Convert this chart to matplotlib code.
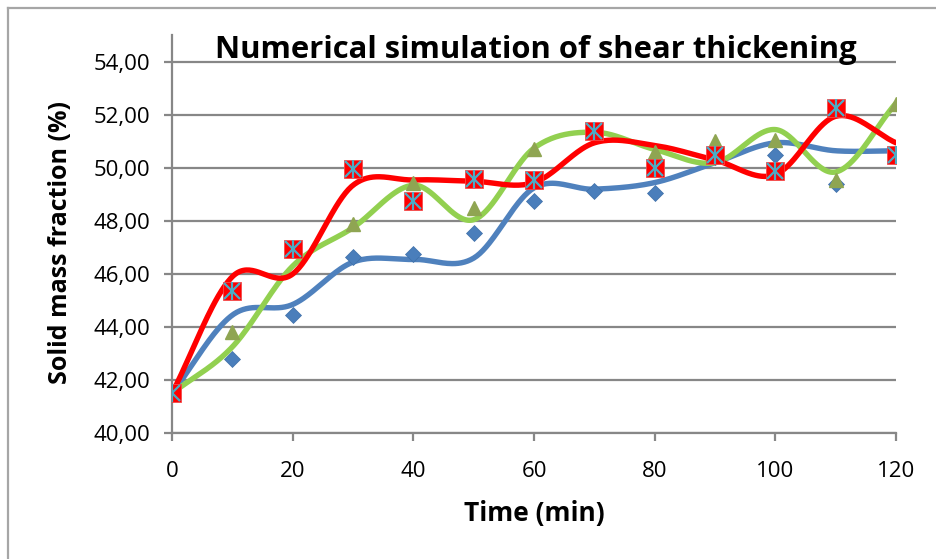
import numpy as np
import matplotlib
matplotlib.use("Agg")
import matplotlib.pyplot as plt
from matplotlib.ticker import FuncFormatter, MultipleLocator
from matplotlib.lines import Line2D

plt.rcParams['font.family'] = ['Open Sans', 'DejaVu Sans']

# time axis (min)
time = [0, 10, 20, 30, 40, 50, 60, 70, 80, 90, 100, 110, 120]

# measured points
blue_pts = [41.5, 42.8, 44.45, 46.65, 46.75, 47.55, 48.75, 49.15, 49.05, 50.4, 50.5, 49.4, 50.5]
green_pts = [41.5, 43.8, 46.9, 47.9, 49.45, 48.5, 50.7, 51.4, 50.6, 51.0, 51.05, 49.55, 52.4]
red_pts = [41.5, 45.35, 46.95, 49.95, 48.75, 49.6, 49.55, 51.4, 50.0, 50.5, 49.9, 52.25, 50.5]

# smoothed simulation curves (values at each time step)
blue_curve = [41.5, 44.45, 44.85, 46.45, 46.55, 46.6, 49.25, 49.2, 49.45, 50.2, 50.95, 50.65, 50.65]
green_curve = [41.5, 43.25, 46.3, 47.75, 49.35, 48.05, 50.75, 51.35, 50.7, 50.2, 51.45, 49.85, 52.45]
red_curve = [41.5, 45.9, 46.0, 49.35, 49.55, 49.5, 49.45, 50.95, 50.85, 50.3, 49.75, 51.95, 50.95]


def smooth(x, y, n=40):
    # catmull-rom, similar to excel "smoothed line"
    x = np.asarray(x, float)
    y = np.asarray(y, float)
    px = np.concatenate([[2 * x[0] - x[1]], x, [2 * x[-1] - x[-2]]])
    py = np.concatenate([[2 * y[0] - y[1]], y, [2 * y[-1] - y[-2]]])
    xs, ys = [], []
    t = np.linspace(0, 1, n)
    for i in range(1, len(px) - 2):
        m0 = (py[i + 1] - py[i - 1]) / 2
        m1 = (py[i + 2] - py[i]) / 2
        h00 = 2 * t**3 - 3 * t**2 + 1
        h10 = t**3 - 2 * t**2 + t
        h01 = -2 * t**3 + 3 * t**2
        h11 = t**3 - t**2
        xs.append(px[i] + t * (px[i + 1] - px[i]))
        ys.append(h00 * py[i] + h10 * m0 + h01 * py[i + 1] + h11 * m1)
    return np.concatenate(xs), np.concatenate(ys)


fig = plt.figure(figsize=(9.36, 5.59), dpi=100)
ax = fig.add_axes([0.1838, 0.2254, 0.7735, 0.7111])

grey = '#878787'

for curve, col in [(blue_curve, '#4F81BD'), (green_curve, '#92D050'), (red_curve, '#FF0000')]:
    sx, sy = smooth(time, curve)
    ax.plot(sx, sy, color=col, lw=3.9, solid_capstyle='round', zorder=3)

ax.plot(time, blue_pts, 'D', color='#4A7EBB', ms=8.5, mec='#3F6FA8', mew=0.5, zorder=4)
ax.plot(time, green_pts, '^', color='#8FA552', ms=10.5, mec='#8FA552', zorder=4)
ax.plot(time, red_pts, 's', color='#FF0000', ms=13, mec='#F24A4A', mew=0.6, zorder=5)
ax.plot(time, red_pts, 'x', color='#4BACC6', ms=11.5, mew=1.6, zorder=6)
ax.plot(time, red_pts, '|', color='#4BACC6', ms=12.5, mew=1.6, zorder=6)

ax.set_xlim(0, 120)
ax.set_ylim(40, 55)
ax.xaxis.set_major_locator(MultipleLocator(20))
ax.set_yticks(np.arange(40, 55, 2))
ax.yaxis.set_major_formatter(FuncFormatter(lambda v, p: f"{v:.2f}".replace('.', ',')))

ax.grid(axis='y', color=grey, lw=1.6)
ax.set_axisbelow(True)
for s in ['top', 'right']:
    ax.spines[s].set_visible(False)
for s in ['left', 'bottom']:
    ax.spines[s].set_color(grey)
    ax.spines[s].set_linewidth(1.6)
ax.tick_params(direction='out', length=6, width=1.6, color=grey, labelsize=16)
ax.tick_params(axis='x', pad=14)
ax.tick_params(axis='y', pad=10)

ax.set_xlabel('Time (min)', fontsize=19, fontweight='bold')
ax.xaxis.set_label_coords(0.501, -0.2013)
ax.xaxis.label.set_va('center')
ax.set_ylabel('Solid mass fraction (%)', fontsize=18, fontweight='bold')
ax.yaxis.set_label_coords(-0.1547, 0.478)
ax.yaxis.label.set_va('center')
ax.text(0.503, 0.943, 'Numerical simulation of shear thickening', transform=ax.transAxes,
        ha='center', va='baseline', fontsize=22.3, fontweight='bold', zorder=7)

# chart area border
fig.add_artist(Line2D([0.0085, 0.0085], [0, 0.986], color='#A6A6A6', lw=1.6))
fig.add_artist(Line2D([0.0085, 1.0], [0.986, 0.986], color='#A6A6A6', lw=1.6))

fig.savefig('out.png', dpi=100)
